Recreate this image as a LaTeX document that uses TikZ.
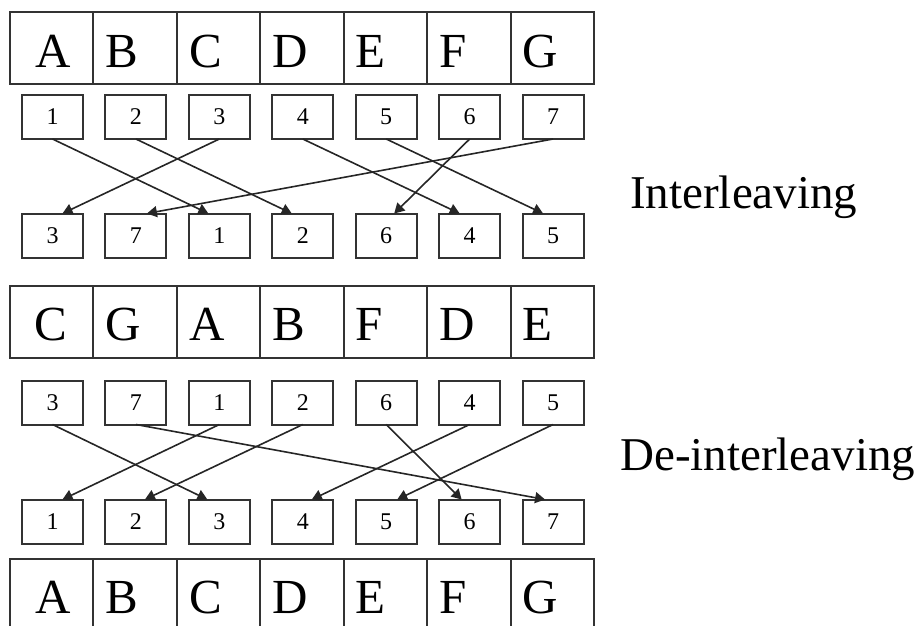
\documentclass[tikz,border=0pt]{standalone}
\usepackage{fontspec}
\setmainfont{Liberation Serif}
\usetikzlibrary{arrows.meta,calc}
\begin{document}
\begin{tikzpicture}[x=1pt,y=-1pt,
  cell/.style={draw=black!80, line width=2pt, minimum width=83.43pt, minimum height=72pt,
    inner sep=0pt, outer sep=0pt, anchor=west},
  letter/.style={font=\fontsize{49}{49}\selectfont, anchor=base west, inner sep=0pt},
  slot/.style={draw=black!80, line width=2pt, minimum width=61pt, minimum height=44pt,
    inner sep=0pt, outer sep=0pt, font=\fontsize{24}{24}\selectfont},
  link/.style={line width=1.6pt, draw=black!85, -{Triangle[width=11pt,length=10pt]}},
  caption/.style={font=\fontsize{47}{47}\selectfont, anchor=base west, inner sep=0pt}]
\useasboundingbox (0,0) rectangle (919,626);

% letter rows: cells and their letters
\foreach \l [count=\i] in {A,B,C,D,E,F,G} {
  \pgfmathsetmacro{\off}{ifthenelse(\i==1,25,12)}
  \node[cell] (t\i) at ({10+83.43*(\i-1)},48) {};
  \node[letter] (tl\i) at ({10+83.43*(\i-1)+\off},67) {\l};
}
\foreach \l [count=\i] in {C,G,A,B,F,D,E} {
  \pgfmathsetmacro{\off}{ifthenelse(\i==1,24,12)}
  \node[cell] (m\i) at ({10+83.43*(\i-1)},321.5) {};
  \node[letter] (ml\i) at ({10+83.43*(\i-1)+\off},340) {\l};
}
\foreach \l [count=\i] in {A,B,C,D,E,F,G} {
  \pgfmathsetmacro{\off}{ifthenelse(\i==1,25,12)}
  \node[cell] (u\i) at ({10+83.43*(\i-1)},595) {};
  \node[letter] (ul\i) at ({10+83.43*(\i-1)+\off},613) {\l};
}

% numbered slots
\foreach \n [count=\i] in {1,2,3,4,5,6,7}
  \node[slot] (a\i) at ({52.5+83.43*(\i-1)},117) {\n};
\foreach \n [count=\i] in {3,7,1,2,6,4,5}
  \node[slot] (b\i) at ({52.5+83.43*(\i-1)},235.5) {\n};
\foreach \n [count=\i] in {3,7,1,2,6,4,5}
  \node[slot] (c\i) at ({52.5+83.43*(\i-1)},402.5) {\n};
\foreach \n [count=\i] in {1,2,3,4,5,6,7}
  \node[slot] (d\i) at ({52.5+83.43*(\i-1)},521.5) {\n};

% interleaving permutation
\foreach \s/\t/\dx in {1/3/-11, 2/4/-11, 3/1/10, 4/6/-10, 5/7/-10, 6/5/8, 7/2/11}
  \draw[link] (a\s.south) -- ([xshift=\dx pt]b\t.north);

% de-interleaving permutation
\foreach \s/\t/\dx in {1/3/-12, 2/7/-8, 3/1/10, 4/2/9, 5/6/-8, 6/4/9, 7/5/11}
  \draw[link] (c\s.south) -- ([xshift=\dx pt]d\t.north);

\node[caption] (cap1) at (630,208) {Interleaving};
\node[caption] (cap2) at (620,470) {De-interleaving};
\end{tikzpicture}
\end{document}
